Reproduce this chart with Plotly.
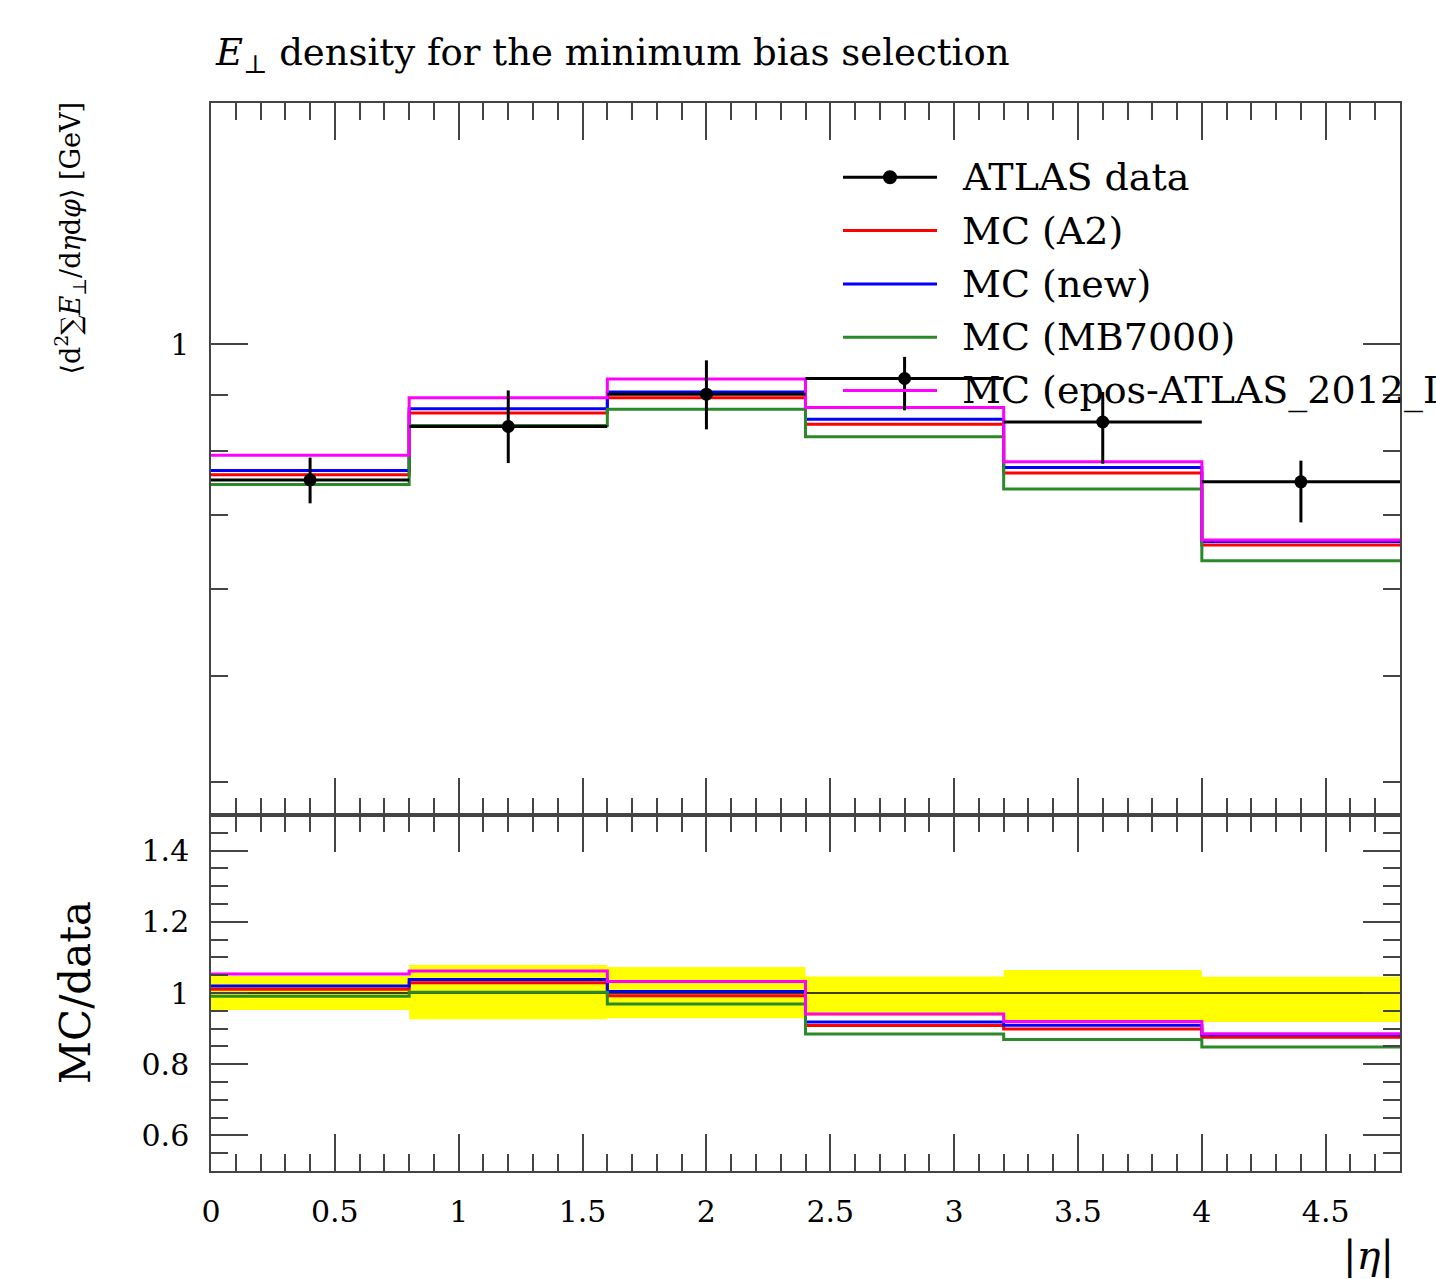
import plotly.graph_objects as go

# ---------------- data ----------------
eta_edges = [0.0, 0.8, 1.6, 2.4, 3.2, 4.0, 4.8]
atlas_data = [0.753, 0.842, 0.901, 0.931, 0.850, 0.750]
atlas_err_up = [0.036, 0.066, 0.066, 0.043, 0.055, 0.034]
atlas_err_dn = [0.036, 0.062, 0.064, 0.060, 0.071, 0.061]
mc_a2 = [0.761, 0.866, 0.894, 0.846, 0.764, 0.657]
mc_new = [0.768, 0.874, 0.905, 0.855, 0.773, 0.662]
mc_mb7000 = [0.746, 0.844, 0.873, 0.824, 0.739, 0.636]
mc_epos = [0.793, 0.894, 0.930, 0.876, 0.782, 0.664]

x_tick_vals = [0, 0.5, 1, 1.5, 2, 2.5, 3, 3.5, 4, 4.5]
x_tick_text = ["0", "0.5", "1", "1.5", "2", "2.5", "3", "3.5", "4", "4.5"]
top_y_tick_vals = [1]
top_y_tick_text = ["1"]
top_y_minor_vals = [0.4, 0.5, 0.6, 0.7, 0.8, 0.9]
ratio_tick_vals = [0.6, 0.8, 1.0, 1.2, 1.4]
ratio_tick_text = ["0.6", "0.8", "1", "1.2", "1.4"]

legend_labels = ["ATLAS data", "MC (A2)", "MC (new)", "MC (MB7000)",
                 "MC (epos-ATLAS_2012_I1183818)"]

# ---------------- styles ----------------
FONT = "DejaVu Serif"
AX = "#444444"
C_DATA = "black"
C_A2 = "#ff0000"
C_NEW = "#0000ff"
C_MB = "#2a8a2a"
C_EPOS = "#ff00ff"
C_BAND = "#ffff00"

W, H = 1436, 1279
ML, MR, MT, MB = 211, 36, 103, 108
PW = W - ML - MR
PH = H - MT - MB


def px(x):
    return (x - ML) / PW


def py(y):
    return (H - MB - y) / PH


split = 356 / PH  # ratio panel fraction

centers = [(eta_edges[i] + eta_edges[i + 1]) / 2 for i in range(len(atlas_data))]
half_w = [(eta_edges[i + 1] - eta_edges[i]) / 2 for i in range(len(atlas_data))]


def step_y(vals):
    return list(vals) + [vals[-1]]


fig = go.Figure()

mc_sets = [(mc_a2, C_A2), (mc_new, C_NEW), (mc_mb7000, C_MB), (mc_epos, C_EPOS)]

# ---------- top panel ----------
for vals, col in mc_sets:
    fig.add_trace(go.Scatter(x=eta_edges, y=step_y(vals), mode="lines",
                             line=dict(color=col, width=3, shape="hv"),
                             xaxis="x2", yaxis="y", showlegend=False,
                             hoverinfo="skip"))

fig.add_trace(go.Scatter(
    x=centers, y=atlas_data, mode="markers",
    marker=dict(color=C_DATA, size=13),
    error_x=dict(type="data", array=half_w, symmetric=True, width=0,
                 thickness=3, color=C_DATA),
    error_y=dict(type="data", array=atlas_err_up, arrayminus=atlas_err_dn,
                 symmetric=False, width=0, thickness=3, color=C_DATA),
    xaxis="x2", yaxis="y", showlegend=False))

# ---------- ratio panel ----------
band_lo = [(d - e) / d for d, e in zip(atlas_data, atlas_err_dn)]
band_hi = [(d + e) / d for d, e in zip(atlas_data, atlas_err_up)]
fig.add_trace(go.Scatter(x=eta_edges, y=step_y(band_lo), mode="lines",
                         line=dict(color=C_BAND, width=0, shape="hv"),
                         xaxis="x", yaxis="y2", showlegend=False,
                         hoverinfo="skip"))
fig.add_trace(go.Scatter(x=eta_edges, y=step_y(band_hi), mode="lines",
                         line=dict(color=C_BAND, width=0, shape="hv"),
                         fill="tonexty", fillcolor=C_BAND,
                         xaxis="x", yaxis="y2", showlegend=False,
                         hoverinfo="skip"))
data_ratio = [d / d for d in atlas_data]
fig.add_trace(go.Scatter(x=eta_edges, y=step_y(data_ratio), mode="lines",
                         line=dict(color="black", width=1.5, shape="hv"),
                         xaxis="x", yaxis="y2", showlegend=False,
                         hoverinfo="skip"))
for vals, col in mc_sets:
    r = [m / d for m, d in zip(vals, atlas_data)]
    fig.add_trace(go.Scatter(x=eta_edges, y=step_y(r), mode="lines",
                             line=dict(color=col, width=3, shape="hv"),
                             xaxis="x", yaxis="y2", showlegend=False,
                             hoverinfo="skip"))

# ---------- axes ----------
tickfont = dict(family=FONT, size=30, color="black")
common = dict(showgrid=False, zeroline=False, showline=True, linecolor=AX,
              linewidth=1.5, mirror="allticks", ticks="inside",
              tickcolor=AX, tickwidth=1.5, ticklen=37, tickfont=tickfont)

xcommon = dict(common, range=[0, 4.8], tickmode="array", tickvals=x_tick_vals,
               ticktext=x_tick_text,
               minor=dict(dtick=0.1, tick0=0, ticks="inside", ticklen=17,
                          tickcolor=AX, tickwidth=1.5, showgrid=False))

fig.update_layout(
    width=W, height=H,
    margin=dict(l=ML, r=MR, t=MT, b=MB, autoexpand=False),
    paper_bgcolor="white", plot_bgcolor="white",
    font=dict(family=FONT, color="black"),
    showlegend=False,
    xaxis=dict(xcommon, domain=[0, 1], anchor="y2", ticklabelstandoff=13),
    xaxis2=dict(xcommon, domain=[0, 1], anchor="y", matches="x",
                showticklabels=False),
    yaxis=dict(common, domain=[split, 1], type="log",
               range=[-0.4276, 0.2192], tickmode="array",
               tickvals=top_y_tick_vals, ticktext=top_y_tick_text,
               ticklabelstandoff=14,
               minor=dict(tickmode="array", tickvals=top_y_minor_vals,
                          ticks="inside", ticklen=17, tickcolor=AX,
                          tickwidth=1.5, showgrid=False)),
    yaxis2=dict(common, domain=[0, split], range=[0.5, 1.5],
                tickmode="array", tickvals=ratio_tick_vals,
                ticktext=ratio_tick_text, ticklabelstandoff=14,
                minor=dict(dtick=0.05, tick0=0.5, ticks="inside",
                           ticklen=17, tickcolor=AX, tickwidth=1.5,
                           showgrid=False)),
)

# ---------- text ----------
ann = []
ann.append(dict(text="<i>E</i><sub>⊥</sub> density for the minimum bias selection",
                x=px(213), y=py(55), xref="paper", yref="paper",
                xanchor="left", yanchor="middle", showarrow=False,
                font=dict(family=FONT, size=37, color="black")))
ann.append(dict(text="⟨d<sup>2</sup>∑<i>E</i><sub>⊥</sub>/d<i>η</i>d<i>φ</i>⟩ [GeV]",
                x=px(70), y=py(100), xref="paper", yref="paper",
                xanchor="center", yanchor="top", textangle=-90,
                showarrow=False,
                font=dict(family=FONT, size=27, color="black")))
ann.append(dict(text="MC/data", x=px(75), y=py(993), xref="paper",
                yref="paper", xanchor="center", yanchor="middle",
                textangle=-90, showarrow=False,
                font=dict(family=FONT, size=42, color="black")))
ann.append(dict(text="|<i>η</i>|", x=px(1396), y=py(1255), xref="paper",
                yref="paper", xanchor="right", yanchor="middle",
                showarrow=False,
                font=dict(family=FONT, size=40, color="black")))

# ---------- manual legend ----------
shapes = []
leg_colors = [C_DATA, C_A2, C_NEW, C_MB, C_EPOS]
row_y = [177.3, 230.6, 283.9, 337.2, 390.5]
for lab, col, ry in zip(legend_labels, leg_colors, row_y):
    shapes.append(dict(type="line", xref="paper", yref="paper",
                       x0=px(843), x1=px(937), y0=py(ry), y1=py(ry),
                       line=dict(color=col, width=3)))
    ann.append(dict(text=lab, x=px(960), y=py(ry), xref="paper",
                    yref="paper", xanchor="left", yanchor="middle",
                    showarrow=False,
                    font=dict(family=FONT, size=38, color="black")))
shapes.append(dict(type="circle", xref="paper", yref="paper",
                   xsizemode="pixel", ysizemode="pixel",
                   xanchor=px(890), yanchor=py(row_y[0]),
                   x0=-7, x1=7, y0=-7, y1=7,
                   fillcolor=C_DATA, line=dict(width=0)))

fig.update_layout(annotations=ann, shapes=shapes)

fig.write_html("out.html")
